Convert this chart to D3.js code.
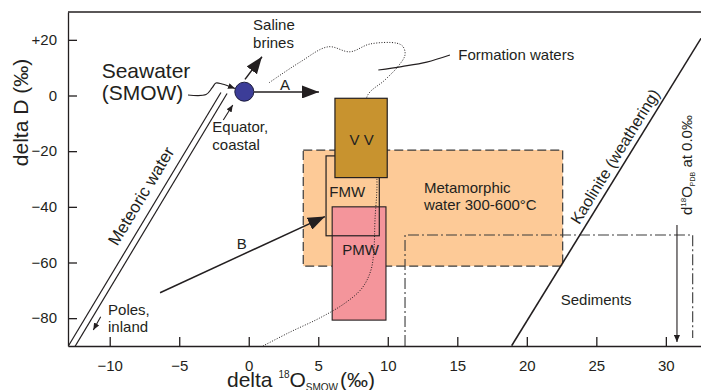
<!DOCTYPE html>
<html lang="en">
<head>
<meta charset="utf-8"/>
<title>delta D vs delta 18O</title>
<script src="https://d3js.org/d3.v7.min.js"></script>
<style>
body { margin: 0; background: #fff; }
svg { display: block; font-family: "Liberation Sans", Arial, sans-serif; }
text { fill: #231f20; }
</style>
</head>
<body>
<div id="chart"></div>

<script>
// -----------------------------------------------------------------------------
// Values (delta 18O SMOW on x, delta D on y, both in permil)

const xTicks = [-10, -5, 0, 5, 10, 15, 20, 25, 30]
const yTicks = [20, 0, -20, -40, -60, -80]

const seawater = [-0.32, 1.37]

// two parallel lines of the meteoric water band
const meteoric = [
  [[-13, -90.2], [-2.0, 1.1]],
  [[-12.5, -90.2], [-1.56, 0.7]]
]
const kaolinite = [[18.91, -89.9], [32.53, 20.55]]

// fields: [x0, x1, y0, y1]
const metamorphic = [3.92, 22.58, -19.6, -61.3]
const pmw = [6.0, 9.87, -40, -80.7]
const fmw = [5.56, 9.39, -21.7, -50.4]
const vv = [6.2, 9.96, -1.0, -29.5]
const sediments = [11.24, 31.93, -50.1, -90, -87.1]

// dotted outline of formation waters
const formation = [
  [1.02, -90], [2.97, -85], [5.12, -79.9], [6.92, -74.6], [8.15, -69.2],
  [8.79, -62.7], [9.0, -55.5], [9.08, -44.7], [9.22, -30.4], [8.86, -12.4],
  [8.5, -0.5], [9.8, 5.6], [10.73, 10.4], [11.24, 14.6], [11.09, 17.6],
  [10.64, 18.8], [8.72, 18.5], [7.28, 15.7], [5.72, 17.5], [3.69, 12.0],
  [1.41, 4.4]
]

// arrows: [from, to]
const bigArrows = [
  [[0.38, 1.26], [5.05, 1.26]],      // A
  [[-0.27, 5.8], [0.95, 13.9]],      // saline brines
  [[-6.38, -70.85], [5.48, -43.5]]   // B
]
const smallArrows = [
  [[-1.83, -8.8], [-1.15, -3.4]],    // equator
  [[-10.65, -79.5], [-11.18, -84.25]], // poles
  [[30.8, -46.5], [30.8, -88.6]]     // d18O PDB at 0
]

const smowLeader = [[-4.37, 0.18], [-3.07, 0.36], [-2.64, 2.7], [-2.36, 4.49], [-1.92, 4.13], [-0.99, 2.52]]
const formationLeader = [[9.32, 9.16], [11.0, 10.4], [12.8, 12.0], [14.47, 14.55]]

const notes = [
  { t: "Saline", at: [0.31, 23.5] },
  { t: "brines", at: [0.31, 17.1] },
  { t: "A", at: [2.6, 2.0], mid: true },
  { t: "Equator,", at: [-2.62, -13.1] },
  { t: "coastal", at: [-2.62, -19.6] },
  { t: "Formation waters", at: [15.07, 12.75] },
  { t: "V V", at: [8.12, -17.8], mid: true },
  { t: "FMW", at: [5.79, -36.4] },
  { t: "PMW", at: [6.73, -57.3] },
  { t: "Metamorphic", at: [12.6, -35.1] },
  { t: "water 300-600°C", at: [12.6, -41.3] },
  { t: "B", at: [-0.51, -55.3], mid: true },
  { t: "Poles,", at: [-10.12, -78.9] },
  { t: "inland", at: [-10.12, -84.9] },
  { t: "Sediments", at: [22.44, -75.3] }
]

// -----------------------------------------------------------------------------

const width = 701
const height = 390
const ink = "#231f20"

const x = d3.scaleLinear().domain([-13, 32.6]).range([68, 702])
const y = d3.scaleLinear().domain([-90, 30]).range([346, 12])

const svg = d3.select("#chart").append("svg")
  .attr("width", width).attr("height", height)

const defs = svg.append("defs")
defs.append("clipPath").attr("id", "plot")
  .append("rect").attr("x", 68).attr("y", 12).attr("width", 634).attr("height", 334)

function marker(id, len, w) {
  defs.append("marker").attr("id", id)
    .attr("markerUnits", "userSpaceOnUse")
    .attr("viewBox", `0 0 ${len} ${w}`)
    .attr("markerWidth", len).attr("markerHeight", w)
    .attr("refX", len).attr("refY", w / 2)
    .attr("orient", "auto")
    .append("path").attr("d", `M0,0L${len},${w / 2}L0,${w}Z`).attr("fill", ink)
}
marker("big", 17, 13)
marker("small", 7, 6)

const line = d3.line().x(d => x(d[0])).y(d => y(d[1]))
const plot = svg.append("g").attr("clip-path", "url(#plot)")

function box(b) {
  return { x: x(b[0]), y: y(b[2]), w: x(b[1]) - x(b[0]), h: y(b[3]) - y(b[2]) }
}

// fields
let r = box(metamorphic)
plot.append("rect").attr("x", r.x).attr("y", r.y).attr("width", r.w).attr("height", r.h)
  .attr("fill", "#fdca97").attr("stroke", "#3a3a3a").attr("stroke-width", 1.2)
  .attr("stroke-dasharray", "9,4")

plot.append("path")
  .attr("d", line([[sediments[0], sediments[3]], [sediments[0], sediments[2]],
                   [sediments[1], sediments[2]], [sediments[1], sediments[4]]]))
  .attr("fill", "none").attr("stroke", "#3a3a3a").attr("stroke-width", 1.1)
  .attr("stroke-dasharray", "11,3,2,3")

r = box(pmw)
plot.append("rect").attr("x", r.x).attr("y", r.y).attr("width", r.w).attr("height", r.h)
  .attr("fill", "#f4959b").attr("stroke", ink).attr("stroke-width", 1.1)

r = box(fmw)
plot.append("rect").attr("x", r.x).attr("y", r.y).attr("width", r.w).attr("height", r.h)
  .attr("fill", "none").attr("stroke", ink).attr("stroke-width", 1.2)

plot.append("path").attr("d", line.curve(d3.curveCatmullRom)(formation))
  .attr("fill", "none").attr("stroke", ink).attr("stroke-width", 1)
  .attr("stroke-dasharray", "1,1.6")

r = box(vv)
plot.append("rect").attr("x", r.x).attr("y", r.y).attr("width", r.w).attr("height", r.h)
  .attr("fill", "#c8932f").attr("stroke", ink).attr("stroke-width", 1.2)

// lines
const straight = d3.line().x(d => x(d[0])).y(d => y(d[1]))
meteoric.forEach(m => plot.append("path").attr("d", straight(m))
  .attr("fill", "none").attr("stroke", ink).attr("stroke-width", 1.2))
plot.append("path").attr("d", straight(kaolinite))
  .attr("fill", "none").attr("stroke", ink).attr("stroke-width", 1.6)

// leaders and arrows
const smooth = d3.line().x(d => x(d[0])).y(d => y(d[1])).curve(d3.curveCatmullRom)
svg.append("path").attr("d", smooth(smowLeader)).attr("fill", "none")
  .attr("stroke", ink).attr("stroke-width", 1.2).attr("marker-end", "url(#small)")
svg.append("path").attr("d", smooth(formationLeader)).attr("fill", "none")
  .attr("stroke", ink).attr("stroke-width", 1.2)

bigArrows.forEach(a => svg.append("path").attr("d", straight(a))
  .attr("stroke", ink).attr("stroke-width", 1.5).attr("marker-end", "url(#big)"))
smallArrows.forEach(a => svg.append("path").attr("d", straight(a))
  .attr("stroke", ink).attr("stroke-width", 1.1).attr("marker-end", "url(#small)"))

svg.append("circle").attr("cx", x(seawater[0])).attr("cy", y(seawater[1])).attr("r", 9.5)
  .attr("fill", "#3c3d98").attr("stroke", "#1d1d3d").attr("stroke-width", 1)

// axes
const fmt = d => d > 0 ? "+" + d : d < 0 ? "\u2212" + (-d) : "0"
const xAxis = svg.append("g").attr("transform", "translate(0,346)")
  .call(d3.axisBottom(x).tickValues(xTicks).tickFormat(d => d < 0 ? "\u2212" + (-d) : d)
        .tickSizeInner(-9).tickSizeOuter(0).tickPadding(14))
const yAxis = svg.append("g").attr("transform", "translate(68,0)")
  .call(d3.axisLeft(y).tickValues(yTicks).tickFormat(fmt)
        .tickSizeInner(-9).tickSizeOuter(0).tickPadding(11))
;[xAxis, yAxis].forEach(g => {
  g.selectAll("path,line").attr("stroke", ink).attr("stroke-width", 1.3)
  g.selectAll("text").attr("fill", ink).style("font-size", "15px")
    .style("font-family", "Liberation Sans, Arial, sans-serif")
})
svg.append("line").attr("x1", 68).attr("x2", 702).attr("y1", 12).attr("y2", 12)
  .attr("stroke", ink).attr("stroke-width", 1.3)

// axis titles
svg.append("text").attr("transform", "translate(28,112.5) rotate(-90)")
  .attr("text-anchor", "middle").style("font-size", "21px").text("delta D (‰)")

const xt = svg.append("text").attr("x", 227).attr("y", 387).style("font-size", "21px")
xt.append("tspan").text("delta ")
xt.append("tspan").attr("dy", -9).style("font-size", "10px").text("18")
xt.append("tspan").attr("dy", 9).text("O")
xt.append("tspan").attr("dy", 4).style("font-size", "10px").text("SMOW")
xt.append("tspan").attr("dy", -4).attr("dx", 2).text("(‰)")

// annotations
svg.selectAll("text.note").data(notes).join("text").attr("class", "note")
  .attr("x", d => x(d.at[0])).attr("y", d => y(d.at[1]))
  .attr("text-anchor", d => d.mid ? "middle" : "start")
  .style("font-size", "15px").text(d => d.t)

svg.append("text").attr("x", x(-10.58)).attr("y", y(6.4)).style("font-size", "21px").text("Seawater")
svg.append("text").attr("x", x(-10.58)).attr("y", y(-1.6)).style("font-size", "21px").text("(SMOW)")

function angle(l) {
  const dx = x(l[1][0]) - x(l[0][0]), dy = y(l[1][1]) - y(l[0][1])
  return Math.atan2(dy, dx) * 180 / Math.PI
}
svg.append("text")
  .attr("transform", `translate(${x(-7.75)},${y(-36.1)}) rotate(${angle(meteoric[0])})`)
  .attr("text-anchor", "middle").attr("dy", "0.35em").style("font-size", "17px").text("Meteoric water")
svg.append("text")
  .attr("transform", `translate(${x(26.34)},${y(-21.9)}) rotate(${angle(kaolinite)})`)
  .attr("text-anchor", "middle").attr("dy", "0.35em").style("font-size", "16px").text("Kaolinite (weathering)")

const pdb = svg.append("text")
  .attr("transform", `translate(${x(31.86)},${y(-25)}) rotate(-90)`)
  .attr("text-anchor", "middle").style("font-size", "15px")
pdb.append("tspan").text("d")
pdb.append("tspan").attr("dy", -6).style("font-size", "8px").text("18")
pdb.append("tspan").attr("dy", 6).text("O")
pdb.append("tspan").attr("dy", 3).style("font-size", "7px").text("PDB")
pdb.append("tspan").attr("dy", -3).text(" at 0.0‰")
</script>
</body>
</html>
